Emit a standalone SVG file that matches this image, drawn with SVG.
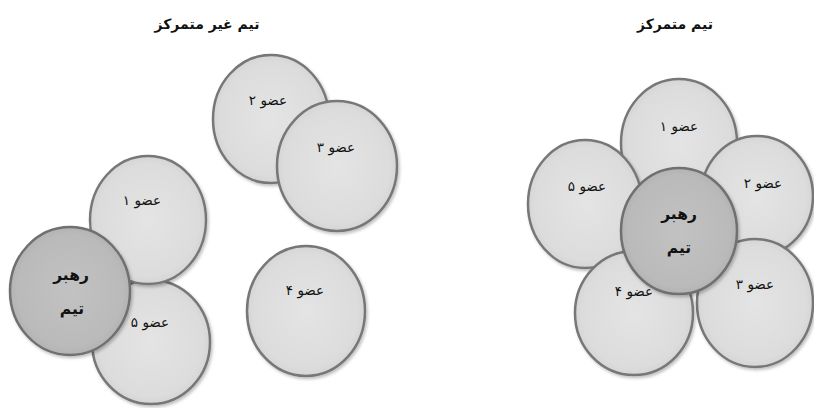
<svg xmlns="http://www.w3.org/2000/svg" width="814" height="408" viewBox="0 0 814 408">
<style>
.m{fill:url(#gm);stroke:#777;stroke-width:2.5;filter:url(#sh)}
.l{fill:url(#gl);stroke:#6f6f6f;stroke-width:2.5;filter:url(#sh)}
.t{font-family:"DejaVu Sans","Noto Sans",sans-serif;font-size:13.5px;fill:#111;text-anchor:middle}
.b{font-family:"DejaVu Sans","Noto Sans",sans-serif;font-size:14px;font-weight:bold;fill:#111;text-anchor:middle}
.lb{font-family:"DejaVu Sans","Noto Sans",sans-serif;font-size:15.5px;font-weight:bold;fill:#111;text-anchor:middle}
</style>
<defs>
<radialGradient id="gm" cx="0.5" cy="0.5" r="0.55">
<stop offset="0" stop-color="#e4e4e4"/><stop offset="0.8" stop-color="#dcdcdc"/><stop offset="1" stop-color="#cfcfcf"/>
</radialGradient>
<radialGradient id="gl" cx="0.5" cy="0.5" r="0.55">
<stop offset="0" stop-color="#c2c2c2"/><stop offset="0.8" stop-color="#bababa"/><stop offset="1" stop-color="#adadad"/>
</radialGradient>
<filter id="sh" x="-20%" y="-20%" width="140%" height="140%">
<feDropShadow dx="1.5" dy="2" stdDeviation="1.5" flood-color="#000" flood-opacity="0.25"/>
</filter>
</defs>
<rect width="814" height="408" fill="#fff"/>
<g id="title-decentral"><text class="b" x="207" y="29">تیم غیر متمرکز</text></g>
<g id="title-central"><text class="b" x="675" y="29">تیم متمرکز</text></g>

<!-- Left: decentralized team -->
<g id="d-member2"><ellipse class="m" cx="271" cy="119" rx="58" ry="64"/><text class="t" x="268" y="105">عضو ۲</text></g>
<g id="d-member3"><ellipse class="m" cx="337" cy="166" rx="60" ry="65"/><text class="t" x="336" y="152">عضو ۳</text></g>
<g id="d-member5"><ellipse class="m" cx="151" cy="342" rx="59" ry="62"/><text class="t" x="150" y="327">عضو ۵</text></g>
<g id="d-member1"><ellipse class="m" cx="148" cy="220" rx="58" ry="64"/><text class="t" x="142" y="205">عضو ۱</text></g>
<g id="d-member4"><ellipse class="m" cx="306" cy="311" rx="59" ry="65"/><text class="t" x="305" y="295">عضو ۴</text></g>
<g id="d-leader"><ellipse class="l" cx="70" cy="291" rx="60" ry="64"/><text class="lb" x="71" y="280">رهبر</text><text class="lb" x="72" y="314">تیم</text></g>

<!-- Right: centralized team -->
<g id="c-member1"><ellipse class="m" cx="679" cy="143" rx="58" ry="64"/><text class="t" x="679" y="131">عضو ۱</text></g>
<g id="c-member5"><ellipse class="m" cx="585" cy="204" rx="57" ry="64"/><text class="t" x="587" y="191">عضو ۵</text></g>
<g id="c-member2"><ellipse class="m" cx="757" cy="196" rx="56" ry="60"/><text class="t" x="763" y="188">عضو ۲</text></g>
<g id="c-member3"><ellipse class="m" cx="755" cy="303" rx="58" ry="64"/><text class="t" x="755" y="289">عضو ۳</text></g>
<g id="c-member4"><ellipse class="m" cx="634" cy="313" rx="59" ry="62"/><text class="t" x="634" y="296">عضو ۴</text></g>
<g id="c-leader"><ellipse class="l" cx="679" cy="231" rx="58" ry="63"/><text class="lb" x="679" y="219">رهبر</text><text class="lb" x="679" y="253">تیم</text></g>
</svg>
